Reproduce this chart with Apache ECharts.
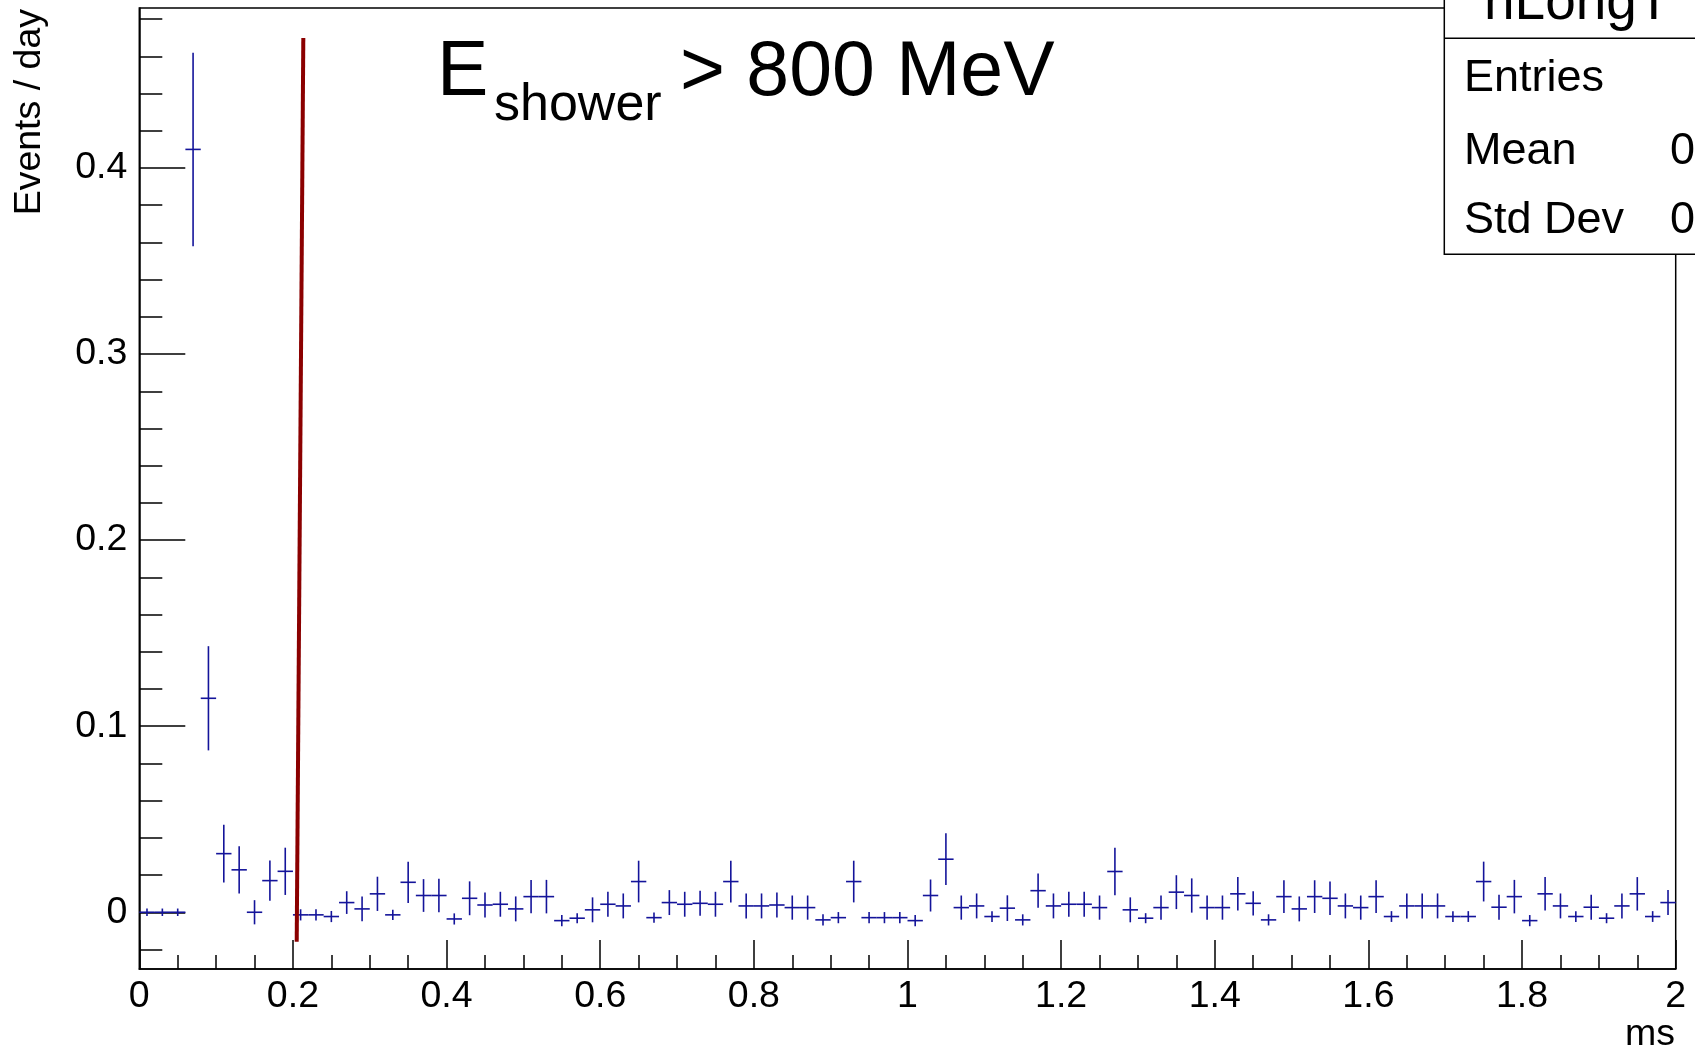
<!DOCTYPE html>
<html>
<head>
<meta charset="utf-8">
<script src="https://cdn.jsdelivr.net/npm/echarts@6/dist/echarts.min.js"></script>
<style>
html,body{margin:0;padding:0;background:#fff;}
#chart{width:1695px;height:1051px;}
</style>
</head>
<body>
<div id="chart"></div>
<script>
// ---- histogram binning (ms) ----
const xMin = 0, xMax = 2, binWidth = 0.02;
// ---- bin contents (Events / day), bins 0..99 ----
const yields0 = [0, 0, 0, 0.410, 0.115, 0.0315, 0.0228, 0, 0.017, 0.022,
                 -0.0014, -0.0014, -0.0023, 0.0052, 0.0018, 0.0099, -0.0014, 0.0161, 0.009, 0.009,
                 -0.0036, 0.0075, 0.0039, 0.0043, 0.0018];
const yields1 = [0.0084, 0.0084, -0.0045, -0.0032, 0.0013, 0.0043, 0.0034, 0.0165, -0.0029, 0.0052,
                 0.0043, 0.0048, 0.0043, 0.0165, 0.0034, 0.0034, 0.0039, 0.0025, 0.0025, -0.0041,
                 -0.0029, 0.0165, -0.0029, -0.0029, -0.0029];
const yields2 = [-0.0045, 0.009, 0.0285, 0.0025, 0.0034, -0.0023, 0.0022, -0.0041, 0.0116, 0.0034,
                 0.0043, 0.0043, 0.0025, 0.0219, 0.0013, -0.0032, 0.0025, 0.0108, 0.009, 0.0025,
                 0.0025, 0.0099, 0.0048, -0.0041, 0.0084];
const yields3 = [0.0018, 0.0084, 0.0075, 0.0034, 0.0025, 0.0084, -0.0023, 0.0034, 0.0034, 0.0034,
                 -0.0023, -0.0023, 0.0165, 0.0027, 0.0084, -0.0045, 0.0099, 0.0034, -0.0023, 0.0027,
                 -0.0032, 0.0034, 0.0099, -0.0023, 0.0052];
// ---- bin errors ----
const errors0 = [0.002, 0.002, 0.002, 0.052, 0.028, 0.0155, 0.0127, 0.0065, 0.0108, 0.0127,
                 0.003, 0.003, 0.003, 0.0061, 0.0067, 0.0092, 0.0027, 0.0111, 0.0088, 0.009,
                 0.003, 0.0091, 0.0067, 0.0067, 0.0067];
const errors1 = [0.009, 0.009, 0.003, 0.0027, 0.0067, 0.0067, 0.0067, 0.0112, 0.0027, 0.0067,
                 0.0067, 0.0067, 0.0067, 0.0112, 0.0067, 0.0067, 0.0067, 0.0065, 0.0065, 0.003,
                 0.003, 0.0112, 0.003, 0.003, 0.003];
const errors2 = [0.003, 0.0086, 0.0139, 0.0065, 0.0067, 0.0029, 0.0069, 0.003, 0.0092, 0.0067,
                 0.0067, 0.0067, 0.0065, 0.0128, 0.0067, 0.0027, 0.0065, 0.0091, 0.0092, 0.0065,
                 0.0065, 0.009, 0.0065, 0.003, 0.0088];
const errors3 = [0.0067, 0.0088, 0.009, 0.0067, 0.0065, 0.0088, 0.0029, 0.0067, 0.0067, 0.0067,
                 0.0029, 0.0029, 0.0107, 0.0067, 0.009, 0.003, 0.009, 0.0067, 0.0029, 0.0067,
                 0.0027, 0.0067, 0.009, 0.0029, 0.0067];
// ---- cut line (ms, Events/day) ----
const cutLine = [[0.2049, -0.0158], [0.2135, 0.4699]];
// ---- axis ticks ----
const yMin = -0.0305, yMax = 0.486;
const yMajorTicks = [0, 0.1, 0.2, 0.3, 0.4];
const xTickInterval = 0.2;
const yTitle = 'Events / day';
const xTitle = 'ms';
const statsTitle = 'hLongT';
const statsRows = ['Entries', 'Mean', 'Std Dev'];
const statsVals = ['', '0', '0'];

const yields = yields0.concat(yields1, yields2, yields3);
const errors = errors0.concat(errors1, errors2, errors3);
const histData = yields.map((v, i) => [xMin + binWidth * (i + 0.5), v, errors[i]]);
const yMinorTicks = [];
for (let k = -1; k <= 24; k++) { const v = Math.round(k * 0.02 * 1000) / 1000; if (Math.abs(v * 10 - Math.round(v * 10)) > 1e-6) yMinorTicks.push(v); }

const FONT = '"Liberation Sans", Arial, Helvetica, sans-serif';
const BLUE = '#14149a';
const LAB = 37.5;

const chart = echarts.init(document.getElementById('chart'), null, {renderer: 'canvas'});
const G = {left: 139.3, right: 19.3, top: 8, bottom: 82};

function fmt(v) { return String(parseFloat(Number(v).toFixed(2))); }

chart.setOption({
  animation: false,
  backgroundColor: '#fff',
  grid: {left: G.left, right: G.right, top: G.top, bottom: G.bottom, show: true, borderColor: '#000', borderWidth: 1.5, backgroundColor: 'transparent'},
  xAxis: {
    type: 'value', min: xMin, max: xMax, interval: xTickInterval,
    axisLine: {show: true, onZero: false, lineStyle: {color: '#000', width: 1.5}},
    axisTick: {show: true, inside: true, length: 29, lineStyle: {color: '#000', width: 1.5}},
    minorTick: {show: true, splitNumber: 4, length: 14, lineStyle: {color: '#000', width: 1.5}},
    axisLabel: {color: '#000', fontSize: LAB, fontFamily: FONT, margin: 9, formatter: fmt, hideOverlap: false, showMinLabel: true, showMaxLabel: true},
    splitLine: {show: false}, minorSplitLine: {show: false}
  },
  yAxis: [{
    type: 'value', min: yMin, max: yMax,
    axisLine: {show: true, onZero: false, lineStyle: {color: '#000', width: 1.5}},
    axisTick: {show: true, inside: true, length: 46, customValues: yMajorTicks, lineStyle: {color: '#000', width: 1.5}},
    axisLabel: {color: '#000', fontSize: LAB, fontFamily: FONT, margin: 12, customValues: yMajorTicks, formatter: fmt},
    splitLine: {show: false}
  }, {
    type: 'value', min: yMin, max: yMax, position: 'left', offset: 0,
    axisLine: {show: false, onZero: false},
    axisTick: {show: true, inside: true, length: 23, customValues: yMinorTicks, lineStyle: {color: '#000', width: 1.5}},
    axisLabel: {show: false},
    splitLine: {show: false}
  }],
  series: [{
    type: 'custom',
    data: histData,
    encode: {x: 0, y: 1},
    clip: true,
    renderItem: function (params, api) {
      const x = api.value(0), y = api.value(1), e = api.value(2);
      const l = api.coord([x - binWidth / 2, y]);
      const r = api.coord([x + binWidth / 2, y]);
      const t = api.coord([x, y + e]);
      const b = api.coord([x, y - e]);
      const st = {stroke: BLUE, lineWidth: 1.6};
      return {type: 'group', children: [
        {type: 'line', shape: {x1: l[0], y1: l[1], x2: r[0], y2: r[1]}, style: st},
        {type: 'line', shape: {x1: t[0], y1: t[1], x2: b[0], y2: b[1]}, style: st}
      ]};
    },
    z: 3
  }, {
    type: 'line', data: cutLine, showSymbol: false, symbol: 'none',
    lineStyle: {color: '#8b0000', width: 4}, z: 4, silent: true
  }],
  graphic: [
    {type: 'text', x: 437, y: 73.5, z: 10, style: {text: 'E', font: '77px ' + FONT, fill: '#000', align: 'left', verticalAlign: 'middle'}},
    {type: 'text', x: 494, y: 105.5, z: 10, style: {text: 'shower', font: '52px ' + FONT, fill: '#000', align: 'left', verticalAlign: 'middle'}},
    {type: 'text', x: 680, y: 73.5, z: 10, style: {text: '> 800 MeV', font: '77px ' + FONT, fill: '#000', align: 'left', verticalAlign: 'middle'}},
    {type: 'text', x: 30, y: 9, rotation: Math.PI / 2, z: 10, style: {text: yTitle, font: LAB + 'px ' + FONT, fill: '#000', align: 'right', verticalAlign: 'middle'}},
    {type: 'text', x: 1675, y: 1035, z: 10, style: {text: xTitle, font: LAB + 'px ' + FONT, fill: '#000', align: 'right', verticalAlign: 'middle'}},
    {type: 'rect', z: 20, shape: {x: 1444.3, y: -5, width: 300, height: 259.3}, style: {fill: '#fff', stroke: '#000', lineWidth: 1.5}},
    {type: 'line', z: 21, shape: {x1: 1444.3, y1: 38.3, x2: 1700, y2: 38.3}, style: {stroke: '#000', lineWidth: 1.5}},
    {type: 'text', z: 22, x: 1484, y: 3.5, style: {text: statsTitle, font: '55px ' + FONT, fill: '#000', align: 'left', verticalAlign: 'middle'}},
    {type: 'text', z: 22, x: 1464, y: 79, style: {text: statsRows[0], font: '45px ' + FONT, fill: '#000', align: 'left', verticalAlign: 'middle'}},
    {type: 'text', z: 22, x: 1464, y: 151.5, style: {text: statsRows[1], font: '45px ' + FONT, fill: '#000', align: 'left', verticalAlign: 'middle'}},
    {type: 'text', z: 22, x: 1464, y: 220.5, style: {text: statsRows[2], font: '45px ' + FONT, fill: '#000', align: 'left', verticalAlign: 'middle'}},
    {type: 'text', z: 22, x: 1670, y: 151.5, style: {text: statsVals[1], font: '45px ' + FONT, fill: '#000', align: 'left', verticalAlign: 'middle'}},
    {type: 'text', z: 22, x: 1670, y: 220.5, style: {text: statsVals[2], font: '45px ' + FONT, fill: '#000', align: 'left', verticalAlign: 'middle'}}
  ]
});
</script>
</body>
</html>
